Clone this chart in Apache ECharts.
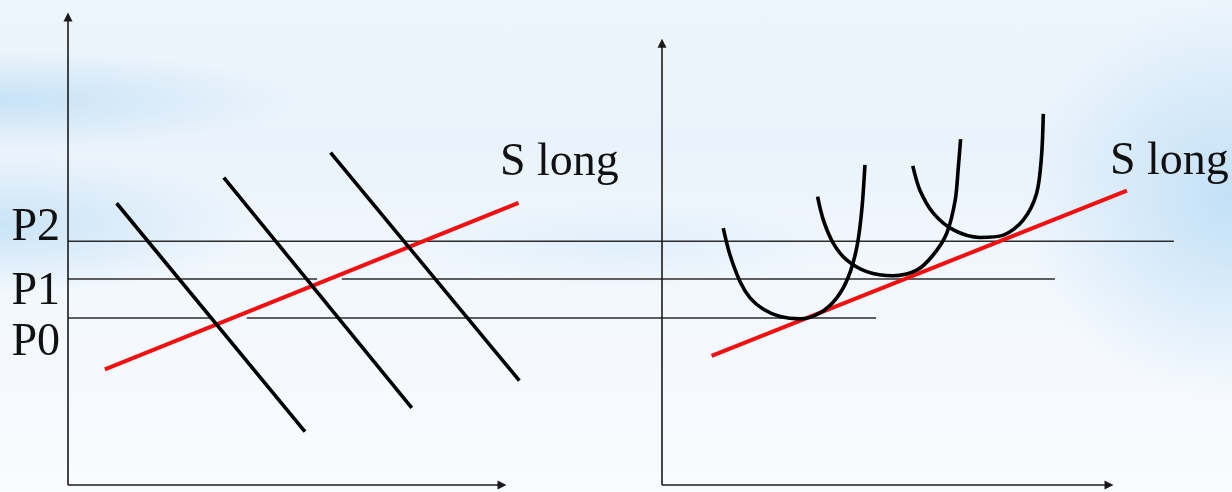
<!DOCTYPE html>
<html>
<head>
<meta charset="utf-8">
<title>S long</title>
<script src="https://cdn.jsdelivr.net/npm/echarts@6/dist/echarts.min.js"></script>
<style>
  html, body { margin: 0; padding: 0; }
  #chart-one {
    width: 1232px;
    height: 492px;
    background:
      radial-gradient(ellipse 300px 50px at 0px 100px, rgba(190, 222, 246, 0.8), rgba(190, 222, 246, 0)),
      radial-gradient(ellipse 260px 70px at 0px 225px, rgba(190, 222, 246, 0.75), rgba(190, 222, 246, 0)),
      radial-gradient(ellipse 220px 45px at 620px 245px, rgba(205, 230, 248, 0.45), rgba(205, 230, 248, 0)),
      radial-gradient(ellipse 210px 200px at 1232px 200px, rgba(190, 222, 246, 0.9), rgba(190, 222, 246, 0)),
      linear-gradient(to bottom, #edf5fc 0%, #eaf3fb 30%, #f3f8fd 60%, #f9fbfe 100%);
  }
</style>
</head>
<body>
<div id="chart-one"></div>
<script>
// price levels P0, P1, P2 (same units in both panels)
const priceLabels = ['P0', 'P1', 'P2'];
const priceLevels = [3.57, 4.40, 5.21];
// where each price line runs, in market-panel quantity units
const priceLineSpans = [
  [[0, 3.32], [4.12, 18.62]],
  [[0, 5.74], [6.31, 22.74]],
  [[0, 25.48]]
];

// market panel: three demand curves and the long run supply
const demand1 = [[1.12, 6.02], [5.46, 1.14]];
const demand2 = [[3.59, 6.57], [7.92, 1.65]];
const demand3 = [[6.05, 7.10], [10.40, 2.23]];
const supplyMarket = [[0.85, 2.47], [10.38, 6.03]];
const marketAxisEnd = [10, 10];

// firm panel: average cost curves and the long run supply
const cost1 = [[1.37, 5.49], [1.52, 4.92], [1.75, 4.34], [1.97, 4.00], [2.26, 3.76], [2.64, 3.60],
  [3.09, 3.55], [3.54, 3.68], [3.91, 4.00], [4.17, 4.45], [4.36, 5.09], [4.47, 5.88], [4.54, 6.84]];
const cost2 = [[3.48, 6.16], [3.61, 5.66], [3.83, 5.17], [4.13, 4.81], [4.58, 4.56], [5.17, 4.47],
  [5.70, 4.59], [6.07, 4.92], [6.37, 5.38], [6.56, 6.09], [6.63, 6.80], [6.68, 7.39]];
const cost3 = [[5.61, 6.82], [5.77, 6.30], [6.07, 5.81], [6.52, 5.45], [7.11, 5.29], [7.64, 5.34],
  [8.08, 5.66], [8.38, 6.23], [8.49, 7.02], [8.53, 7.93]];
const supplyFirm = [[1.11, 2.76], [10.40, 6.29]];
const firmAxisEnd = [10, 9.44];

const curveLabel = 'S long';

// layout: where each origin sits and how many pixels one unit takes
const originY = 485;
const pxPerPrice = 46.8;
const priceRange = [-0.1, 10.3];
const panels = [
  { left: 68, pxPerQ: 43.4, qRange: [-0.2, 26] },
  { left: 662, pxPerQ: 44.7, qRange: [-0.2, 12] }
];

var myChart = echarts.init(document.getElementById('chart-one'));

const grids = panels.map(p => ({
  left: p.left + p.qRange[0] * p.pxPerQ,
  width: (p.qRange[1] - p.qRange[0]) * p.pxPerQ,
  top: originY - priceRange[1] * pxPerPrice,
  height: (priceRange[1] - priceRange[0]) * pxPerPrice
}));
const xAxes = panels.map((p, i) => ({ type: 'value', gridIndex: i, min: p.qRange[0], max: p.qRange[1], show: false }));
const yAxes = panels.map((p, i) => ({ type: 'value', gridIndex: i, min: priceRange[0], max: priceRange[1], show: false }));

// the two drawn axes of a panel, with arrow heads
const axisLines = end => ({
  silent: true,
  symbol: ['none', 'triangle'],
  symbolSize: 9,
  label: { show: false },
  emphasis: { disabled: true },
  lineStyle: { color: '#1a1a1a', width: 1.6, type: 'solid' },
  data: [
    [{ coord: [0, 0] }, { coord: [end[0], 0] }],
    [{ coord: [0, 0] }, { coord: [0, end[1]] }]
  ]
});

const line = (data, color, width, gi, z, smooth) => ({
  type: 'line',
  data: data,
  xAxisIndex: gi,
  yAxisIndex: gi,
  symbol: 'none',
  smooth: smooth || false,
  clip: false,
  silent: true,
  z: z,
  lineStyle: { color: color, width: width, cap: 'butt' }
});

const series = [];
priceLineSpans.forEach((spans, i) => {
  spans.forEach(s => {
    series.push(line([[s[0], priceLevels[i]], [s[1], priceLevels[i]]], '#2b2b2b', 1.5, 0, 2));
  });
});
const marketSupply = line(supplyMarket, '#f01010', 4, 0, 3);
marketSupply.markLine = axisLines(marketAxisEnd);
series.push(marketSupply);
[demand1, demand2, demand3].forEach(d => series.push(line(d, '#000', 3.6, 0, 4)));
const firmSupply = line(supplyFirm, '#f01010', 4, 1, 3);
firmSupply.markLine = axisLines(firmAxisEnd);
series.push(firmSupply);
[cost1, cost2, cost3].forEach(c => series.push(line(c, '#000', 3.6, 1, 4, 0.3)));

const serif = '46px "Liberation Serif", "Times New Roman", serif';
const textItem = (text, x, y, align) => ({
  type: 'text',
  x: x,
  y: y,
  silent: true,
  style: { text: text, font: serif, fill: '#111', align: align, verticalAlign: 'middle' }
});

myChart.setOption({
  animation: false,
  backgroundColor: 'transparent',
  grid: grids,
  xAxis: xAxes,
  yAxis: yAxes,
  series: series,
  graphic: [
    textItem(curveLabel, 500, 163, 'left'),
    textItem(curveLabel, 1110, 162, 'left'),
    textItem(priceLabels[2], 60, 228, 'right'),
    textItem(priceLabels[1], 60, 292, 'right'),
    textItem(priceLabels[0], 60, 343, 'right')
  ]
});
</script>
</body>
</html>
